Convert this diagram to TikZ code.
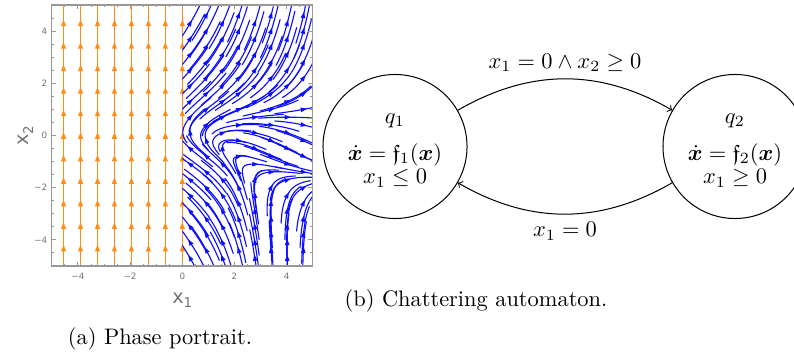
\documentclass[tikz,border=0pt]{standalone}
\usepackage{amsmath,amssymb,bm}
\usepackage{fontspec}
\newfontfamily\plotfont{DejaVu Sans}
\definecolor{streamblue}{rgb}{0.05,0.05,1}
\definecolor{streamorange}{rgb}{1,0.55,0.08}
\definecolor{framegray}{gray}{0.6}
\definecolor{labelgray}{gray}{0.45}
\tikzset{
  statecirc/.style={draw, circle, minimum size=64.3pt, inner sep=0pt, line width=0.45pt},
  txt/.style={anchor=base, inner sep=0pt},
  streamline/.style={streamblue, line width=0.5pt, line join=round, line cap=round},
  orangeline/.style={streamorange, line width=0.55pt},
  tickline/.style={framegray, line width=0.4pt},
  ticklab/.style={labelgray, font=\plotfont\fontsize{3.9}{4}\selectfont, inner sep=0pt},
  axlab/.style={labelgray, font=\plotfont\fontsize{8.6}{9}\selectfont, inner sep=0pt},
  trans/.style={->, line width=0.45pt},
}
\newif\ifstGo
\def\stH{0.1}
\def\stMax{11}
\newcommand\stField{%
  \pgfmathsetmacro\stU{(\stY)+0.28*(\stX)*(\stX)-0.17}%
  \pgfmathsetmacro\stW{(\stY)+0.5}%
  \pgfmathsetmacro\stV{0.35*(\stY)*(\stY)+0.5+0.25*(\stX)*(\stX)*(0.3*(\stW)*(\stW)-0.6)}%
  \pgfmathsetmacro\stN{sqrt((\stU)*(\stU)+(\stV)*(\stV))+0.0001}%
  \pgfmathsetmacro\stU{(\stU)/(\stN)}%
  \pgfmathsetmacro\stV{(\stV)/(\stN)}%
}
\newcommand\stHalf[3]{%
  \xdef\stX{#1}\xdef\stY{#2}%
  \xdef\stPath{(\stX,\stY)}%
  \global\stGotrue
  \foreach \stp in {1,...,\stMax}{%
    \ifstGo
      \stField
      \pgfmathsetmacro\stNX{(\stX)+(#3)*\stH*(\stU)}%
      \pgfmathsetmacro\stNY{(\stY)+(#3)*\stH*(\stV)}%
      \xdef\stX{\stNX}\xdef\stY{\stNY}%
      \xdef\stPath{\stPath -- (\stX,\stY)}%
      \ifdim\stX pt<0pt \global\stGofalse\fi
      \ifdim\stX pt>5pt \global\stGofalse\fi
      \ifdim\stY pt<-5pt \global\stGofalse\fi
      \ifdim\stY pt>5pt \global\stGofalse\fi
    \fi
  }%
  \draw[streamline] \stPath;
}
\newcommand\stArrow[2]{%
  \xdef\stX{#1}\xdef\stY{#2}\stField
  \fill[streamblue] ({#1+0.14*(\stU)},{#2+0.14*(\stV)}) -- ({#1-0.1*(\stU)-0.09*(\stV)},{#2-0.1*(\stV)+0.09*(\stU)}) -- ({#1-0.1*(\stU)+0.09*(\stV)},{#2-0.1*(\stV)-0.09*(\stU)}) -- cycle;
}
\newcommand\stSeed[2]{%
  \stHalf{#1}{#2}{1}\stHalf{#1}{#2}{-1}\stArrow{#1}{#2}%
}
\begin{document}
\begin{tikzpicture}[x=0.4464pt,y=-0.4464pt]
\useasboundingbox (0,0) rectangle (794,356);

% ---------------- phase portrait ----------------
\begin{scope}[shift={(182.3,135.5)}, x=11.65pt, y=11.65pt]
  % orange streams (left half)
  \foreach \k in {0,...,7} {
    \pgfmathsetmacro\ox{-4.55+0.65*\k}
    \draw[orangeline] (\ox,-5) -- (\ox,5);
    \foreach \j in {0,...,10} {
      \pgfmathsetmacro\oy{4.3-0.863*\j}
      \fill[streamorange] (\ox,\oy+0.14) -- (\ox-0.1,\oy-0.11) -- (\ox+0.1,\oy-0.11) -- cycle;
    }
  }
  % blue streams (right half)
  \begin{scope}
    \clip (0,-5) rectangle (5,5);
    \foreach \i in {0,...,7} {
      \foreach \j in {0,...,16} {
        \pgfmathsetmacro\seedx{0.3+0.62*\i}
        \pgfmathsetmacro\seedy{-4.7+0.6*\j+0.3*mod(\i,2)}
        \pgfmathtruncatemacro\seedok{\seedy<4.9 ? 1 : 0}
        \ifnum\seedok=1 \stSeed{\seedx}{\seedy}\fi
      }
    }
  \end{scope}
  % frame and ticks
  \draw[framegray, line width=0.5pt] (-5,-5) rectangle (5,5);
  \foreach \t in {-4.5,-4,...,4.5} {
    \draw[tickline] (\t,-5) -- (\t,-4.91);
    \draw[tickline] (\t,5) -- (\t,4.91);
    \draw[tickline] (-5,\t) -- (-4.91,\t);
    \draw[tickline] (5,\t) -- (4.91,\t);
  }
  \foreach \t in {-4,-2,0,2,4} {
    \draw[tickline] (\t,-5) -- (\t,-4.83);
    \draw[tickline] (\t,5) -- (\t,4.83);
    \draw[tickline] (-5,\t) -- (-4.83,\t);
    \draw[tickline] (5,\t) -- (4.83,\t);
  }
  \foreach \t/\lab/\nm in {-4/{−4}/a,-2/{−2}/b,0/0/c,2/2/d,4/4/e} {
    \node[ticklab] (xt\nm) at (\t,-5.38) {\lab};
    \node[ticklab, anchor=east] (yt\nm) at (-5.16,\t) {\lab};
  }
  \node[axlab] (xlab) at (0,-6.3) {x\raisebox{-0.4ex}{\fontsize{6}{6}\selectfont 1}};
  \node[axlab, rotate=90] (ylab) at (-6.0,0) {x\raisebox{-0.4ex}{\fontsize{6}{6}\selectfont 2}};
\end{scope}
\node[txt] (capa) at (160,344.3) {(a) Phase portrait.};

% ---------------- automaton ----------------
\node[statecirc] (q1) at (395,146.5) {};
\node[statecirc] (q2) at (735,146.5) {};
\node[txt] (q1name) at (395,123.3) {$q_1$};
\node[txt] (q1flow) at (395,160.5) {$\dot{\bm x} = \mathfrak{f}_1(\bm x)$};
\node[txt] (q1inv) at (395,184) {$x_1 \le 0$};
\node[txt] (q2name) at (735,123.3) {$q_2$};
\node[txt] (q2flow) at (735,160.5) {$\dot{\bm x} = \mathfrak{f}_2(\bm x)$};
\node[txt] (q2inv) at (735,184) {$x_1 \ge 0$};
\draw[trans] (q1) to[bend left=30] (q2);
\draw[trans] (q2) to[bend left=30] (q1);
\node[txt] (lab12) at (565,68.3) {$x_1 = 0 \land x_2 \geq 0$};
\node[txt] (lab21) at (565,236.7) {$x_1 = 0$};
\node[txt] (capb) at (476,306.5) {(b) Chattering automaton.};
\end{tikzpicture}
\end{document}
